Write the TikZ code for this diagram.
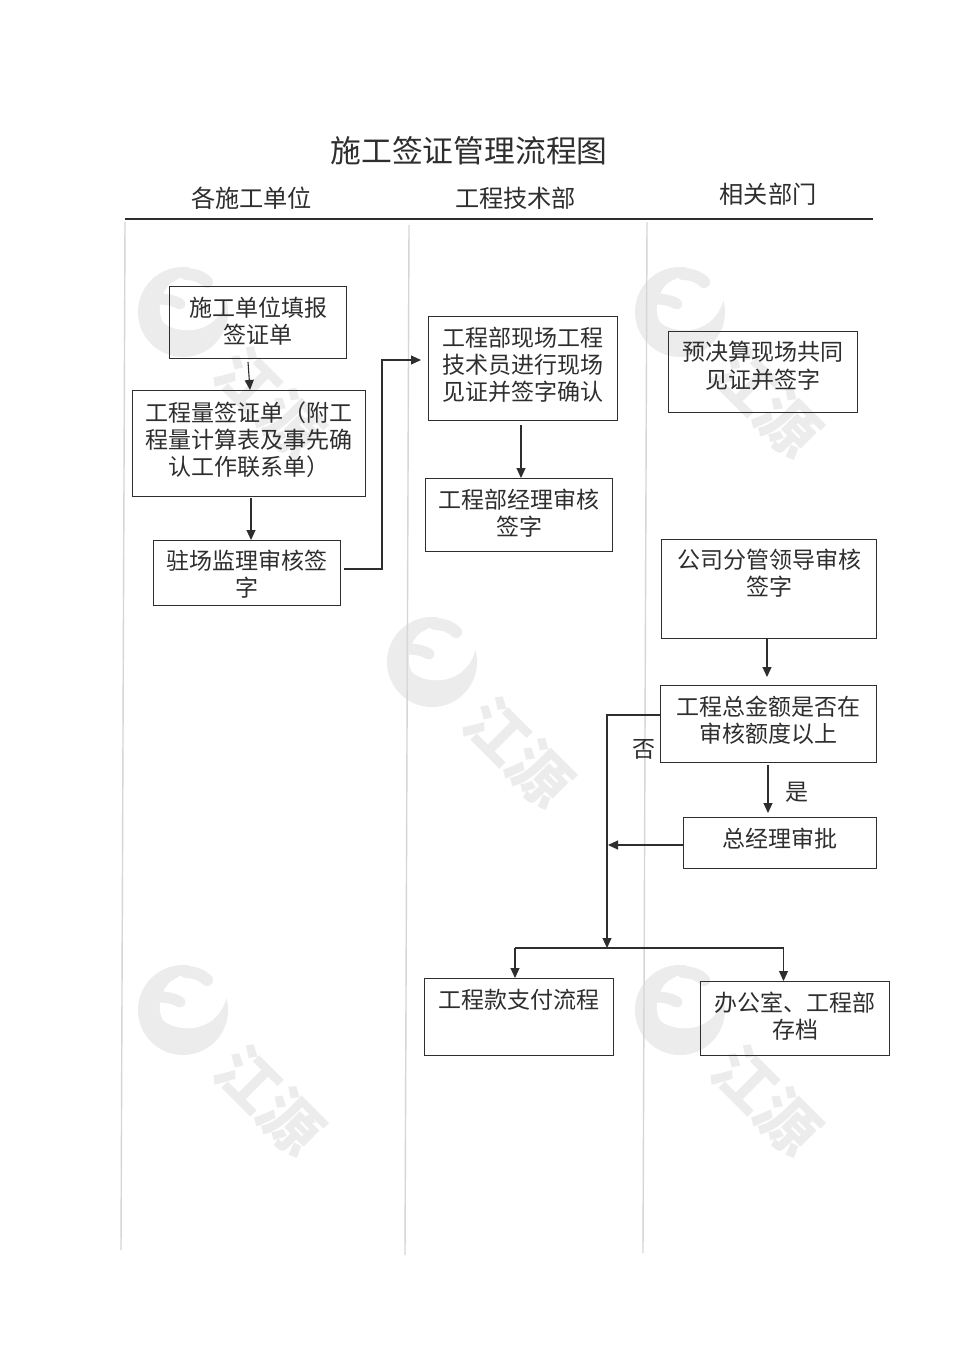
\documentclass[tikz,border=0pt]{standalone}
\usepackage{fontspec}
\setmainfont{Noto Sans CJK SC}
\usetikzlibrary{arrows.meta}
\definecolor{ink}{HTML}{2E2E2E}
\definecolor{wm}{HTML}{ECECEC}
\definecolor{lane}{HTML}{D6D6D6}
\tikzset{
  x=1pt,y=-1pt,
  boxnode/.style={draw=ink,line width=1pt,inner sep=0pt,outer sep=0pt,anchor=north west,text=ink},
  arr/.style={draw=ink,line width=1.1pt,-{Triangle[length=10pt,width=9pt]}},
  plain/.style={draw=ink,line width=1.1pt},
  lanerule/.style={draw=lane,line width=1.4pt},
  lbl/.style={text=ink,inner sep=0pt},
  wmtext/.style={text=wm,inner sep=0pt,rotate=-45,font=\fontsize{61}{61}\selectfont\bfseries}
}
% name, x1, y1, x2, y2, centre y of first text line, text
\newcommand{\bx}[7]{%
  \node[boxnode] (#1) at (#2,#3) {\parbox[c][\dimexpr#5pt-#3pt\relax][t]{\dimexpr#4pt-#2pt\relax}{%
    \fontsize{23}{27.3}\selectfont\centering\advance\leftskip by 1pt
    \vspace*{\dimexpr#6pt-#3pt-10.8pt\relax}\rule{0pt}{20pt}#7\par}};}
% name, logo centre x, y
\newcommand{\wmark}[3]{%
  \begin{scope}[shift={(#2,#3)}]
    \fill[wm] (0,0) circle[radius=45];
    \fill[white] (-8.3,-31) -- (3,-37) -- (10,-52) -- (60,-52) -- (60,-11.7) -- (43.3,-11.7)
      .. controls (38,8) and (22,18.3) .. (5,18.3)
      .. controls (-6,18.3) and (-15,15) .. (-20,10)
      .. controls (-24,3) and (-24,-6) .. (-21.7,-11.7)
      .. controls (-20,-20) and (-15,-28) .. (-8.3,-31) -- cycle;
    \draw[wm,line width=12pt,line cap=round] (3,-38) .. controls (10,-38) and (18,-36) .. (24,-30);
    \draw[wm,line width=11pt,line cap=round] (-24,-13) .. controls (-15,-13) and (-8,-11) .. (-3,-8);
    \node[wmtext] (#1) at (87,90) {江源};
  \end{scope}}
\begin{document}
\begin{tikzpicture}
\useasboundingbox (0,0) rectangle (970,1371);
\fill[white] (0,0) rectangle (970,1371);
\wmark{wma}{183}{312}
\wmark{wmb}{680}{312}
\wmark{wmc}{432}{662}
\wmark{wmd}{183}{1010}
\wmark{wme}{680}{1010}
% lanes
\coordinate (la1) at (125,222); \coordinate (la2) at (121,1250);
\coordinate (lb1) at (409,225); \coordinate (lb2) at (405,1255);
\coordinate (lc1) at (647,222); \coordinate (lc2) at (643,1253);
\draw[lanerule] (la1) -- (la2);
\draw[lanerule] (lb1) -- (lb2);
\draw[lanerule] (lc1) -- (lc2);
% header
\node[lbl,font=\fontsize{30.8}{34}\selectfont] (title) at (469,151) {施工签证管理流程图};
\node[lbl,font=\fontsize{24.2}{28}\selectfont] (h1) at (251.5,198) {各施工单位};
\node[lbl,font=\fontsize{24.2}{28}\selectfont] (h2) at (515.5,198) {工程技术部};
\node[lbl,font=\fontsize{24.2}{28}\selectfont] (h3) at (768,194) {相关部门};
\coordinate (hl) at (125,219); \coordinate (hr) at (873,219);
\draw[plain] (hl) -- (hr);
% boxes
\bx{A}{169}{286}{346}{358}{307}{施工单位填报\\签证单}
\bx{B}{132}{390}{365}{496}{412}{工程量签证单（附工\\程量计算表及事先确\\认工作联系单）}
\bx{C}{153}{540}{340}{605}{560}{驻场监理审核签\\字}
\bx{D}{428}{316}{617}{420}{337}{工程部现场工程\\技术员进行现场\\见证并签字确认}
\bx{E}{425}{478}{612}{551}{499}{工程部经理审核\\签字}
\bx{F}{668}{331}{857}{412}{351.5}{预决算现场共同\\见证并签字}
\bx{G}{661}{539}{876}{638}{559}{公司分管领导审核\\签字}
\bx{H}{660}{685}{876}{762}{706}{工程总金额是否在\\审核额度以上}
\bx{I}{683}{817}{876}{868}{838}{总经理审批}
\bx{J}{424}{978}{613}{1055}{999}{工程款支付流程}
\bx{K}{700}{981}{889}{1055}{1002}{办公室、工程部\\存档}
% connectors
\draw[arr] ([xshift=-9.5pt,yshift=-4pt]A.south) -- ([xshift=1.5pt]B.north);
\draw[arr] ([xshift=2.5pt,yshift=-2pt]B.south) -- ([xshift=4.5pt]C.north);
\coordinate (c1) at (382,569); \coordinate (c2) at (382,360);
\draw[arr] ([xshift=4pt]C.east |- c1) -- (c1) -- (c2) -- ([xshift=-7pt]D.west |- c2);
\draw[arr] ([xshift=-1.5pt,yshift=-5pt]D.south) -- ([xshift=2.5pt]E.north);
\draw[arr] ([xshift=-1.5pt]G.south) -- ([xshift=-1pt,yshift=8pt]H.north);
\coordinate (n1) at (607,715); \coordinate (n2) at (607,948);
\draw[arr] (H.west |- n1) -- (n1) -- (n2);
\draw[arr] ([yshift=-3pt]H.south) -- ([xshift=-11.5pt,yshift=4pt]I.north);
\coordinate (m1) at (608,845);
\draw[arr] (I.west |- m1) -- (m1);
\coordinate (bl) at (515,948); \coordinate (br) at (783.5,948);
\draw[plain] (bl) -- (br);
\draw[arr] (bl) -- (bl |- J.north);
\draw[arr] (br) -- (br |- K.north);
% labels
\node[lbl,font=\fontsize{23}{27}\selectfont] (no) at (644,749) {否};
\node[lbl,font=\fontsize{23}{27}\selectfont] (yes) at (796.5,792) {是};
\end{tikzpicture}
\end{document}
